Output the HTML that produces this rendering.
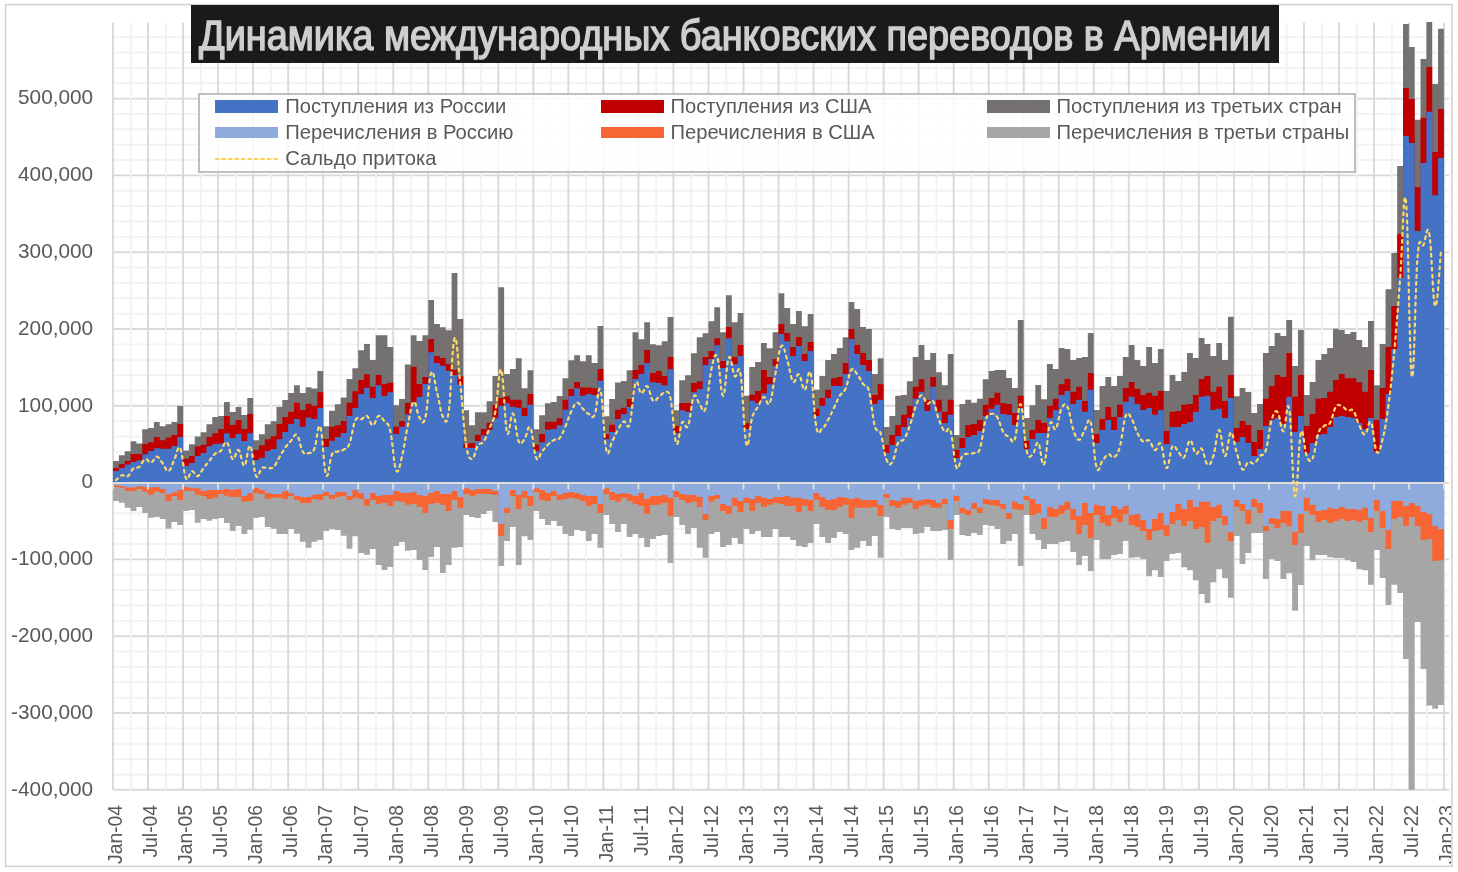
<!DOCTYPE html>
<html><head><meta charset="utf-8"><title>chart</title>
<style>
html,body{margin:0;padding:0;background:#fff;}
body{width:1458px;height:872px;position:relative;overflow:hidden;font-family:"Liberation Sans",sans-serif;color:#595959;}
.yl,#xwrap,#legend,#title{will-change:transform;}
.yl{position:absolute;left:0;width:93.2px;text-align:right;font-size:20.8px;line-height:24px;height:24px;white-space:nowrap;}
.xl{position:absolute;top:875.3px;width:70px;height:22px;line-height:22px;font-size:19.3px;transform-origin:0 0;transform:rotate(-90deg);text-align:right;white-space:nowrap;margin-left:-7.7px;}
#title{position:absolute;left:191px;top:5px;width:1087.8px;height:57.5px;background:#1a1a1a;overflow:hidden;}
#title span{position:absolute;left:7.5px;top:4.1px;white-space:nowrap;font-size:43px;line-height:52px;font-weight:normal;color:#d0cece;-webkit-text-stroke:1.5px #d0cece;transform-origin:0 50%;transform:scaleX(0.8805);}
#legend{position:absolute;left:197.7px;top:93px;width:1158.2px;height:79.7px;border:2px solid #bfbfbf;background:rgba(255,255,255,0.82);box-sizing:border-box;}
.li{position:absolute;height:24px;line-height:24px;font-size:20.2px;white-space:nowrap;}
#xwrap{position:absolute;left:0;top:0;width:1451.3px;height:872px;overflow:hidden;}
.sw{position:absolute;width:63px;height:12px;}
</style></head><body>
<svg width="1458" height="872" viewBox="0 0 1458 872" style="position:absolute;left:0;top:0">
<rect x="0" y="0" width="1458" height="872" fill="#fff"/>
<rect x="5.6" y="4.6" width="1446.3" height="861.7" fill="none" stroke="#d0d0d0" stroke-width="1.5"/>
<path d="M113 789.8H1449M113 713H1449M113 636.2H1449M113 559.4H1449M113 405.8H1449M113 329H1449M113 252.2H1449M113 175.4H1449M113 98.6H1449M113 789.7H1449" stroke="#d9d9d9" stroke-width="1.9" fill="none"/>
<path d="M113 774.44H1449M113 759.08H1449M113 743.72H1449M113 728.36H1449M113 697.64H1449M113 682.28H1449M113 666.92H1449M113 651.56H1449M113 620.84H1449M113 605.48H1449M113 590.12H1449M113 574.76H1449M113 544.04H1449M113 528.68H1449M113 513.32H1449M113 497.96H1449M113 467.24H1449M113 451.88H1449M113 436.52H1449M113 421.16H1449M113 390.44H1449M113 375.08H1449M113 359.72H1449M113 344.36H1449M113 313.64H1449M113 298.28H1449M113 282.92H1449M113 267.56H1449M113 236.84H1449M113 221.48H1449M113 206.12H1449M113 190.76H1449M113 160.04H1449M113 144.68H1449M113 129.32H1449M113 113.96H1449M113 83.24H1449M113 67.88H1449M113 52.52H1449M113 37.16H1449" stroke="#f2f2f2" stroke-width="1.9" fill="none"/>
<path d="M130.81 22.6V789.7M165.84 22.6V789.7M200.87 22.6V789.7M235.9 22.6V789.7M270.93 22.6V789.7M305.95 22.6V789.7M340.98 22.6V789.7M376.01 22.6V789.7M411.04 22.6V789.7M446.07 22.6V789.7M481.09 22.6V789.7M516.12 22.6V789.7M551.15 22.6V789.7M586.18 22.6V789.7M621.21 22.6V789.7M656.23 22.6V789.7M691.26 22.6V789.7M726.29 22.6V789.7M761.32 22.6V789.7M796.35 22.6V789.7M831.37 22.6V789.7M866.4 22.6V789.7M901.43 22.6V789.7M936.46 22.6V789.7M971.49 22.6V789.7M1006.51 22.6V789.7M1041.54 22.6V789.7M1076.57 22.6V789.7M1111.6 22.6V789.7M1146.63 22.6V789.7M1181.65 22.6V789.7M1216.68 22.6V789.7M1251.71 22.6V789.7M1286.74 22.6V789.7M1321.77 22.6V789.7M1356.79 22.6V789.7M1391.82 22.6V789.7M1426.85 22.6V789.7" stroke="#f2f2f2" stroke-width="1.9" fill="none"/>
<path d="M113 22.6V789.7M148.03 22.6V789.7M183.06 22.6V789.7M218.08 22.6V789.7M253.11 22.6V789.7M288.14 22.6V789.7M323.17 22.6V789.7M358.2 22.6V789.7M393.22 22.6V789.7M428.25 22.6V789.7M463.28 22.6V789.7M498.31 22.6V789.7M533.34 22.6V789.7M568.36 22.6V789.7M603.39 22.6V789.7M638.42 22.6V789.7M673.45 22.6V789.7M708.48 22.6V789.7M743.5 22.6V789.7M778.53 22.6V789.7M813.56 22.6V789.7M848.59 22.6V789.7M883.62 22.6V789.7M918.64 22.6V789.7M953.67 22.6V789.7M988.7 22.6V789.7M1023.73 22.6V789.7M1058.76 22.6V789.7M1093.78 22.6V789.7M1128.81 22.6V789.7M1163.84 22.6V789.7M1198.87 22.6V789.7M1233.9 22.6V789.7M1268.92 22.6V789.7M1303.95 22.6V789.7M1338.98 22.6V789.7M1374.01 22.6V789.7M1409.04 22.6V789.7M1444.06 22.6V789.7" stroke="#d9d9d9" stroke-width="1.9" fill="none"/>
<path fill="#767171" d="M113.05 482.6V461.12H118.89V455.22H124.72V451.24H130.56V441.25H136.4V443.41H142.23V429.32H148.07V428.12H153.91V422.1H159.75V426.31H165.58V424.14H171.42V422.1H177.26V406.08H183.09V450.4H188.93V444.26H194.77V436.55H200.6V432.21H206.44V424.14H212.28V416.92H218.12V416.07H223.95V402.1H229.79V412.1H235.63V407.04H241.46V415.11H247.3V398.01H253.14V440.16H258.97V434.14H264.81V424.14H270.65V421.13H276.49V407.04H282.32V400.06H288.16V393.11H294V385.31H299.83V393.11H305.67V387.26H311.51V388.62H317.34V371.08H323.18V426.25H329.02V410.65H334.86V404.22H340.69V397.4H346.53V379.07H352.37V368.15H358.2V350.22H364.04V343.98H369.88V359.97H375.71V335.21H381.55V335.21H387.39V346.9H393.23V405.19H399.06V398.96H404.9V364.45H410.74V335.21H416.57V341.06H422.41V335.21H428.25V300.06H434.08V323.9H439.92V327.21H445.76V330.14H451.6V273.11H457.43V319.01H463.27V410.18H469.11V425.15H474.94V412.35H480.78V412.35H486.62V401.2H492.45V376.1H498.29V287.2H504.13V374.1H509.97V369.11H515.8V358.3H521.64V388.23H527.48V370.28H533.31V429.31H539.15V415.34H544.99V403.2H550.82V402.04H556.66V396.05H562.5V378.26H568.34V360.3H574.17V355.31H580.01V361.13H585.85V355.31H591.68V362.96H597.52V326.09H603.36V416.17H609.19V399.04H615.03V382.41H620.87V381.08H626.71V370.28H632.54V332.2H638.38V339.14H644.22V322.16H650.05V344.2H655.89V345.16H661.73V341.19H667.56V317.1H673.4V410.29H679.24V380.33H685.08V375.27H690.91V353.23H696.75V337.21H702.59V333.36H708.42V321.31H714.26V307.22H720.1V332.15H725.93V295.18H731.77V322.16H737.61V313.12H743.45V395.84H749.28V367.08H755.12V362.02H760.96V342.99H766.79V348.17H772.63V332.15H778.47V293.25H784.3V308.07H790.14V324.08H795.98V311.08H801.82V326.13H807.65V314.09H813.49V389.82H819.33V376.11H825.16V360.1H831V354.07H836.84V348.05H842.67V337.21H848.51V302.04H854.35V309.03H860.19V327.1H866.02V328.9H871.86V374.07H877.7V358.29H883.53V426.91H889.37V415.95H895.21V395.84H901.04V395H906.88V381.17H912.72V357.09H918.56V345.04H924.39V360.1H930.23V352.99H936.07V372.14H941.9V385.15H947.74V354.07H953.58V434.98H959.41V403.91H965.25V399.81H971.09V402.83H976.93V398.85H982.76V379.13H988.6V371H994.44V370.04H1000.27V370.04H1006.11V378.11H1011.95V388.1H1017.78V320.06H1023.62V417.88H1029.46V405.21H1035.3V385.09H1041.13V399.18H1046.97V364.02H1052.81V369.07H1058.64V348.12H1064.48V348.96H1070.32V360.04H1076.15V357.99H1081.99V357.03H1087.83V332.94H1093.67V409.93H1099.5V386.06H1105.34V377.02H1111.18V386.06H1117.01V376.06H1122.85V357.03H1128.69V344.99H1134.52V360.04H1140.36V366.06H1146.2V346.91H1152.04V363.05H1157.87V348.96H1163.71V391.11H1169.55V375.1H1175.38V381.12H1181.22V372.09H1187.06V352.94H1192.89V357.99H1198.73V337.88H1204.57V343.9H1210.41V355.95H1216.24V342.94H1222.08V360.04H1227.92V316.8H1233.75V396.17H1239.59V388.1H1245.43V392.08H1251.26V412.94H1257.1V404.12H1262.94V352.94H1268.78V345.95H1274.61V332.94H1280.45V335.95H1286.29V320.06H1292.12V366.06H1297.96V329.93H1303.8V395.09H1309.63V382.08H1315.47V360.04H1321.31V354.02H1327.15V348H1332.98V328.85H1338.82V329.99H1344.66V333.96H1350.49V331.91H1356.33V339.98H1362.17V346.97H1368V320.95H1373.84V385.15H1379.68V343.96H1385.52V289.18H1391.35V253.05H1397.19V166H1403.03V24.03H1408.86V46.92H1414.7V119.87H1420.54V58.96H1426.38V22H1432.21V84.01H1438.05V28.85H1443.89V482.6Z"/>
<path fill="#C00000" d="M113.05 482.6V468.1H118.89V463.89H124.72V460.88H130.56V454.01H136.4V454.01H142.23V444.02H148.07V442.21H153.91V437.03H159.75V440.16H165.58V437.39H171.42V434.98H177.26V423.9H183.09V458.83H188.93V456.06H194.77V446.18H200.6V444.86H206.44V437.03H212.28V433.18H218.12V428.96H223.95V415.95H229.79V425.11H235.63V419.93H241.46V428.96H247.3V413.91H253.14V450.04H258.97V445.22H264.81V439.2H270.65V436.19H276.49V423.9H282.32V416.92H288.16V411.63H294V402.86H299.83V410.07H305.67V403.83H311.51V405.78H317.34V392.13H323.18V438.92H329.02V426.83H334.86V425.28H340.69V420.99H346.53V402.86H352.37V391.16H358.2V380.05H364.04V374.2H369.88V386.87H375.71V374.98H381.55V383.94H387.39V382.78H393.23V426.83H399.06V420.99H404.9V402.86H410.74V366.79H416.57V383.94H422.41V376.93H428.25V338.91H434.08V356.07H439.92V358.02H445.76V364.25H451.6V370.1H457.43V376.15H463.27V443.94H469.11V443.11H474.94V434.79H480.78V428.97H486.62V422.82H492.45V404.86H498.29V397.88H504.13V396.22H509.97V399.87H515.8V399.87H521.64V407.86H527.48V394.05H533.31V444.77H539.15V433.96H544.99V421.82H550.82V421.82H556.66V418.17H562.5V399.87H568.34V389.07H574.17V382.08H580.01V387.4H585.85V387.4H591.68V388.23H597.52V369.11H603.36V433.96H609.19V424.82H615.03V409.85H620.87V407.86H626.71V399.04H632.54V369.94H638.38V365.03H644.22V349.98H650.05V373.1H655.89V371.06H661.73V376.11H667.56V357.09H673.4V425.95H679.24V403.07H685.08V403.07H690.91V383.1H696.75V381.17H702.59V357.09H708.42V351.06H714.26V338.18H720.1V361.06H725.93V327.1H731.77V357.09H737.61V345.04H743.45V422.94H749.28V394.64H755.12V391.02H760.96V370.09H766.79V377.08H772.63V359.01H778.47V324.08H784.3V333.12H790.14V346.97H795.98V336.97H801.82V354.07H807.65V342.03H813.49V408.85H819.33V397.89H825.16V389.82H831V378.16H836.84V377.08H842.67V363.11H848.51V328.9H854.35V345.04H860.19V352.99H866.02V360.1H871.86V395H877.7V384.18H883.53V444.98H889.37V434.98H895.21V424.99H901.04V414.87H906.88V405.84H912.72V386.81H918.56V379.13H924.39V399.81H930.23V377.08H936.07V399.81H941.9V411.86H947.74V399.81H953.58V450.04H959.41V437.99H965.25V424.99H971.09V423.9H976.93V419.93H982.76V404.87H988.6V397.89H994.44V392.83H1000.27V403.07H1006.11V403.91H1011.95V412.94H1017.78V395.84H1023.62V441H1029.46V429.92H1035.3V419.93H1041.13V422.94H1046.97V405.84H1052.81V398.85H1058.64V384.13H1064.48V379.07H1070.32V391.87H1076.15V386.81H1081.99V400.9H1087.83V373.05H1093.67V434.02H1099.5V418.96H1105.34V406.92H1111.18V416.92H1117.01V404.87H1122.85V388.01H1128.69V382.08H1134.52V388.85H1140.36V394.88H1146.2V392.83H1152.04V395.84H1157.87V391.02H1163.71V431.01H1169.55V411.86H1175.38V410.89H1181.22V404.87H1187.06V403.91H1192.89V395H1198.73V379.07H1204.57V376.06H1210.41V391.87H1216.24V386.81H1222.08V400.9H1227.92V375.1H1233.75V428H1239.59V420.89H1245.43V424.99H1251.26V441.97H1257.1V429.92H1262.94V398.85H1268.78V386.2H1274.61V375.1H1280.45V377.02H1286.29V352.94H1292.12V396.8H1297.96V375.1H1303.8V425.95H1309.63V413.91H1315.47V398.85H1321.31V397.89H1327.15V391.87H1332.98V380.03H1338.82V374.07H1344.66V378.16H1350.49V378.16H1356.33V382.14H1362.17V391.87H1368V370.09H1373.84V419.93H1379.68V388.01H1385.52V346.97H1391.35V305.9H1397.19V233.9H1403.03V88.11H1408.86V99.07H1414.7V187.08H1420.54V117.83H1426.38V67.03H1432.21V152.03H1438.05V109.03H1443.89V482.6Z"/>
<path fill="#4472C4" d="M113.05 482.6V471.11H118.89V468.1H124.72V464.49H130.56V462.08H136.4V460.28H142.23V454.25H148.07V451H153.91V448.23H159.75V448.83H165.58V448.83H171.42V446.06H177.26V437.03H183.09V465.94H188.93V463.05H194.77V456.06H200.6V453.05H206.44V446.18H212.28V444.02H218.12V443.41H223.95V433.18H229.79V437.99H235.63V434.02H241.46V441H247.3V433.18H253.14V459.91H258.97V457.87H264.81V451H270.65V449.07H276.49V439.2H282.32V431.97H288.16V423.91H294V419.04H299.83V426.83H305.67V417.48H311.51V419.04H317.34V408.12H323.18V446.72H329.02V440.87H334.86V436.97H340.69V433.07H346.53V415.92H352.37V408.12H358.2V394.08H364.04V387.84H369.88V397.98H375.71V385.31H381.55V396.03H387.39V392.13H393.23V434.05H399.06V426.83H404.9V414.16H410.74V401.88H416.57V397.01H422.41V383.94H428.25V352.17H434.08V362.89H439.92V365.81H445.76V371.08H451.6V374.98H457.43V384.72H463.27V448.1H469.11V448.1H474.94V441.11H480.78V435.29H486.62V429.81H492.45V418.17H498.29V405.69H504.13V403.2H509.97V406.86H515.8V407.86H521.64V416H527.48V404.86H533.31V450.92H539.15V442.28H544.99V429.81H550.82V428.97H556.66V425.32H562.5V409.85H568.34V396.05H574.17V388.23H580.01V395.72H585.85V394.05H591.68V394.89H597.52V380.75H603.36V438.95H609.19V431.97H615.03V419H620.87V414.01H626.71V407.02H632.54V379.09H638.38V374.07H644.22V363.11H650.05V382.14H655.89V383.1H661.73V385.15H667.56V369.13H673.4V432.94H679.24V410.29H685.08V411.74H690.91V392.13H696.75V389.12H702.59V365.03H708.42V359.01H714.26V345.16H720.1V368.05H725.93V338.18H731.77V364.07H737.61V356H743.45V428.96H749.28V400.66H755.12V403.07H760.96V393.43H766.79V384.18H772.63V366.12H778.47V333.96H784.3V341.19H790.14V356H795.98V346H801.82V361.06H807.65V351.06H813.49V415.95H819.33V405.84H825.16V397.89H831V386.11H836.84V386.11H842.67V374.07H848.51V339.02H854.35V354.07H860.19V365.03H866.02V371.06H871.86V404.03H877.7V399.81H883.53V453.05H889.37V444.98H895.21V435.95H901.04V426.91H906.88V417.88H912.72V398.85H918.56V391.87H924.39V410.89H930.23V386.81H936.07V411.86H941.9V422.94H947.74V414.87H953.58V458.11H959.41V447.99H965.25V437.03H971.09V434.98H976.93V431.01H982.76V415.95H988.6V408.85H994.44V404.87H1000.27V413.91H1006.11V414.87H1011.95V424.99H1017.78V407.88H1023.62V449.07H1029.46V438.96H1035.3V432.94H1041.13V432.94H1046.97V417.88H1052.81V409.93H1058.64V395H1064.48V391.02H1070.32V403.91H1076.15V399.81H1081.99V411.86H1087.83V389.82H1093.67V443.05H1099.5V429.92H1105.34V419.93H1111.18V429.92H1117.01V416.92H1122.85V401.86H1128.69V396.8H1134.52V403.91H1140.36V409.93H1146.2V407.88H1152.04V414.87H1157.87V409.93H1163.71V444.02H1169.55V426.91H1175.38V426.91H1181.22V423.9H1187.06V421.98H1192.89V411.86H1198.73V396.8H1204.57V395.84H1210.41V409.93H1216.24V408.85H1222.08V417.88H1227.92V397.89H1233.75V441.97H1239.59V437.03H1245.43V443.05H1251.26V456.06H1257.1V449.07H1262.94V425.95H1268.78V419.93H1274.61V417.88H1280.45V423.9H1286.29V396.8H1292.12V431.97H1297.96V415.95H1303.8V453.05H1309.63V443.05H1315.47V434.98H1321.31V434.02H1327.15V426.91H1332.98V416.92H1338.82V415.95H1344.66V416.92H1350.49V417.88H1356.33V422.94H1362.17V428.96H1368V417.88H1373.84V451.84H1379.68V418.96H1385.52V394.03H1391.35V349.02H1397.19V278.1H1403.03V135.89H1408.86V143H1414.7V230.89H1420.54V162.99H1426.38V111.8H1432.21V195.15H1438.05V158.05H1443.89V482.6Z"/>
<path fill="#A6A6A6" d="M113.05 482.6V500.88H118.89V502.69H124.72V507.87H130.56V510.88H136.4V506.91H142.23V512.93H148.07V517.75H153.91V516.9H159.75V518.95H165.58V528.83H171.42V521.96H177.26V524.97H183.09V511.12H188.93V509.92H194.77V522.8H200.6V518.95H206.44V520.76H212.28V518.95H218.12V517.99H223.95V522.92H229.79V530.99H235.63V525.94H241.46V534H247.3V529.79H253.14V517.99H258.97V516.9H264.81V527.02H270.65V528.83H276.49V534H282.32V534H288.16V528.95H294V533.64H299.83V541.83H305.67V547.86H311.51V541.83H317.34V540.03H323.18V530.99H329.02V529.19H334.86V530.03H340.69V535.81H346.53V548.82H352.37V536.17H358.2V552.91H364.04V554.84H369.88V549.06H375.71V564.96H381.55V569.9H387.39V566.89H393.23V546.05H399.06V542.07H404.9V550.87H410.74V550.02H416.57V559.9H422.41V569.9H428.25V556.89H434.08V546.89H439.92V572.91H445.76V564.96H451.6V547.86H457.43V546.89H463.27V515.1H469.11V516.9H474.94V517.99H480.78V513.89H486.62V511.12H492.45V521.96H498.29V565.92H504.13V540.99H509.97V527.02H515.8V564.96H521.64V536.17H527.48V540.03H533.31V511.12H539.15V518.95H544.99V524.97H550.82V521H556.66V525.94H562.5V534H568.34V536.05H574.17V530.03H580.01V530.99H585.85V540.99H591.68V534H597.52V547.86H603.36V515.1H609.19V524.01H615.03V531.96H620.87V524.01H626.71V537.02H632.54V534H638.38V537.98H644.22V547.01H650.05V539.06H655.89V536.05H661.73V534.97H667.56V562.91H673.4V516.9H679.24V524.97H685.08V534H690.91V527.98H696.75V547.86H702.59V557.85H708.42V534H714.26V531.96H720.1V547.01H725.93V545.09H731.77V537.98H737.61V544H743.45V528.95H749.28V534H755.12V530.99H760.96V537.02H766.79V537.02H772.63V528.95H778.47V537.02H784.3V537.02H790.14V540.03H795.98V546.05H801.82V547.01H807.65V543.04H813.49V524.01H819.33V537.02H825.16V543.04H831V537.98H836.84V531.96H842.67V534H848.51V550.02H854.35V547.86H860.19V540.99H866.02V546.05H871.86V536.05H877.7V557.85H883.53V516.9H889.37V528.95H895.21V530.03H901.04V527.98H906.88V527.98H912.72V534H918.56V533.04H924.39V527.02H930.23V530.99H936.07V530.99H941.9V530.03H947.74V559.9H953.58V515.1H959.41V534.97H965.25V536.05H971.09V533.04H976.93V534.97H982.76V524.97H988.6V525.94H994.44V528.95H1000.27V544H1006.11V540.99H1011.95V534H1017.78V565.92H1023.62V514.98H1029.46V534H1035.3V540.03H1041.13V549.06H1046.97V544H1052.81V544H1058.64V542.07H1064.48V540.99H1070.32V552.07H1076.15V564.96H1081.99V556.05H1087.83V571.1H1093.67V540.03H1099.5V559.06H1105.34V559.06H1111.18V555.08H1117.01V554.12H1122.85V540.99H1128.69V557.85H1134.52V557.13H1140.36V559.06H1146.2V576.16H1152.04V570.14H1157.87V577.12H1163.71V561.1H1169.55V554.12H1175.38V553.03H1181.22V567.13H1187.06V570.14H1192.89V580.13H1198.73V593.98H1204.57V603.02H1210.41V582.18H1216.24V569.17H1222.08V578.21H1227.92V597.84H1233.75V536.05H1239.59V564.11H1245.43V553.03H1251.26V533.04H1257.1V533.04H1262.94V578.93H1268.78V559.06H1274.61V561.1H1280.45V578.93H1286.29V573.15H1292.12V610.85H1297.96V584.95H1303.8V546.05H1309.63V560.14H1315.47V555.08H1321.31V555.08H1327.15V557.13H1332.98V558.09H1338.82V558.09H1344.66V560.14H1350.49V562.07H1356.33V569.17H1362.17V570.14H1368V584.8H1373.84V550.02H1379.68V577.97H1385.52V604.9H1391.35V584.8H1397.19V592.9H1403.03V659.1H1408.86V789.7H1414.7V622H1420.54V669.1H1426.38V705.5H1432.21V708.7H1438.05V705H1443.89V482.6Z"/>
<path fill="#F86534" d="M113.05 482.6V487.03H118.89V488H124.72V491.01H130.56V491.01H136.4V489.08H142.23V491.85H148.07V494.86H153.91V491.85H159.75V493.06H165.58V500.88H171.42V496.07H177.26V500.04H183.09V490.65H188.93V491.01H194.77V494.86H200.6V496.07H206.44V499.08H212.28V497.87H218.12V493.9H223.95V495.83H229.79V497.03H235.63V497.03H241.46V501.85H247.3V500.88H253.14V493.06H258.97V494.02H264.81V499.08H270.65V497.87H276.49V497.87H282.32V499.08H288.16V496.07H294V500.04H299.83V502.93H305.67V502.93H311.51V499.08H317.34V500.04H323.18V496.07H329.02V499.08H334.86V497.03H340.69V496.07H346.53V500.04H352.37V497.87H358.2V499.08H364.04V505.94H369.88V500.04H375.71V503.89H381.55V502.93H387.39V505.94H393.23V500.88H399.06V501.85H404.9V504.86H410.74V503.89H416.57V506.91H422.41V512.93H428.25V503.89H434.08V502.93H439.92V504.86H445.76V510.88H451.6V500.04H457.43V507.87H463.27V494.02H469.11V496.07H474.94V494.02H480.78V494.02H486.62V494.02H492.45V495.1H498.29V536.05H504.13V512.93H509.97V496.07H515.8V508.95H521.64V497.87H527.48V505.94H533.31V492.09H539.15V500.04H544.99V500.88H550.82V496.07H556.66V500.04H562.5V499.08H568.34V497.87H574.17V499.08H580.01V500.88H585.85V505.94H591.68V503.89H597.52V512.93H603.36V494.02H609.19V500.04H615.03V501.85H620.87V497.87H626.71V500.88H632.54V503.89H638.38V505.94H644.22V513.89H650.05V505.1H655.89V504.86H661.73V502.93H667.56V515.94H673.4V497.03H679.24V500.04H685.08V502.93H690.91V501.85H696.75V506.91H702.59V519.91H708.42V501.85H714.26V499.08H720.1V510.88H725.93V513.89H731.77V505.94H737.61V511.96H743.45V502.93H749.28V510.88H755.12V502.93H760.96V506.91H766.79V504.86H772.63V502.93H778.47V503.89H784.3V505.94H790.14V505.94H795.98V511.96H801.82V505.94H807.65V510.88H813.49V500.04H819.33V506.91H825.16V509.92H831V509.92H836.84V506.91H842.67V504.86H848.51V517.99H854.35V507.87H860.19V507.87H866.02V507.87H871.86V506.91H877.7V515.94H883.53V497.87H889.37V505.94H895.21V507.87H901.04V504.86H906.88V502.93H912.72V508.95H918.56V505.94H924.39V504.86H930.23V507.87H936.07V507.87H941.9V503.89H947.74V528.95H953.58V500.88H959.41V512.93H965.25V514.98H971.09V508.95H976.93V512.93H982.76V503.89H988.6V505.1H994.44V505.94H1000.27V508.95H1006.11V518.95H1011.95V508.95H1017.78V509.92H1023.62V500.04H1029.46V514.98H1035.3V512.93H1041.13V528.95H1046.97V516.9H1052.81V516.9H1058.64V513.89H1064.48V509.92H1070.32V519.91H1076.15V534H1081.99V524.97H1087.83V537.98H1093.67V514.98H1099.5V522.92H1105.34V525.94H1111.18V517.99H1117.01V521.96H1122.85V513.89H1128.69V524.97H1134.52V527.02H1140.36V530.99H1146.2V540.03H1152.04V530.99H1157.87V530.03H1163.71V536.05H1169.55V524.01H1175.38V519.91H1181.22V525.94H1187.06V521H1192.89V528.95H1198.73V527.02H1204.57V543.04H1210.41V521H1216.24V517.99H1222.08V524.97H1227.92V540.99H1233.75V506.91H1239.59V510.88H1245.43V524.01H1251.26V506.91H1257.1V512.93H1262.94V530.99H1268.78V524.01H1274.61V527.98H1280.45V522.92H1286.29V525.94H1292.12V545.09H1297.96V533.04H1303.8V510.88H1309.63V514.98H1315.47V521.96H1321.31V519.91H1327.15V522.92H1332.98V521H1338.82V518.95H1344.66V521H1350.49V519.91H1356.33V521.96H1362.17V519.91H1368V531.96H1373.84V510.88H1379.68V527.98H1385.52V549.06H1391.35V518.95H1397.19V516.9H1403.03V525.94H1408.86V516.9H1414.7V525.94H1420.54V540.03H1426.38V539.06H1432.21V561.1H1438.05V560.14H1443.89V482.6Z"/>
<path fill="#8FAADC" d="M113.05 482.6V485.23H118.89V486.19H124.72V487.39H130.56V487.39H136.4V486.19H142.23V487.03H148.07V487.39H153.91V487.03H159.75V489.08H165.58V494.02H171.42V492.21H177.26V490.04H183.09V487.03H188.93V488.24H194.77V488.24H200.6V491.01H206.44V490.04H212.28V490.04H218.12V490.04H223.95V489.08H229.79V490.04H235.63V489.08H241.46V496.07H247.3V493.06H253.14V488H258.97V490.04H264.81V493.06H270.65V494.02H276.49V494.02H282.32V491.01H288.16V493.06H294V496.07H299.83V497.03H305.67V497.03H311.51V494.86H317.34V494.02H323.18V492.09H329.02V495.1H334.86V492.09H340.69V492.09H346.53V496.07H352.37V490.04H358.2V493.06H364.04V499.08H369.88V493.06H375.71V496.07H381.55V495.1H387.39V495.1H393.23V491.01H399.06V493.06H404.9V493.06H410.74V492.09H416.57V495.1H422.41V496.07H428.25V493.06H434.08V491.01H439.92V494.02H445.76V494.02H451.6V491.01H457.43V497.03H463.27V488.24H469.11V490.04H474.94V489.08H480.78V489.08H486.62V489.08H492.45V491.01H498.29V524.01H504.13V507.87H509.97V490.04H515.8V495.1H521.64V491.01H527.48V496.07H533.31V488.24H539.15V490.04H544.99V493.06H550.82V491.01H556.66V494.86H562.5V493.06H568.34V492.09H574.17V493.06H580.01V495.1H585.85V496.07H591.68V496.07H597.52V503.89H603.36V488.24H609.19V492.09H615.03V494.02H620.87V493.06H626.71V494.02H632.54V496.07H638.38V493.06H644.22V499.08H650.05V496.07H655.89V496.07H661.73V495.1H667.56V497.87H673.4V491.01H679.24V494.02H685.08V495.1H690.91V495.1H696.75V497.03H702.59V513.89H708.42V496.07H714.26V495.1H720.1V503.89H725.93V505.94H731.77V497.87H737.61V500.88H743.45V497.87H749.28V499.08H755.12V496.07H760.96V497.87H766.79V499.08H772.63V497.03H778.47V497.03H784.3V496.07H790.14V497.87H795.98V497.87H801.82V499.08H807.65V500.04H813.49V493.06H819.33V497.03H825.16V500.04H831V499.08H836.84V497.03H842.67V497.87H848.51V499.08H854.35V497.87H860.19V500.04H866.02V500.04H871.86V500.04H877.7V505.1H883.53V494.02H889.37V500.04H895.21V500.88H901.04V497.87H906.88V497.87H912.72V500.88H918.56V500.04H924.39V499.08H930.23V500.04H936.07V502.93H941.9V499.08H947.74V519.91H953.58V496.07H959.41V507.87H965.25V509.92H971.09V502.93H976.93V507.87H982.76V499.08H988.6V500.04H994.44V500.04H1000.27V503.89H1006.11V512.93H1011.95V501.85H1017.78V503.89H1023.62V496.07H1029.46V499.08H1035.3V503.89H1041.13V517.99H1046.97V506.91H1052.81V508.95H1058.64V505.1H1064.48V501.85H1070.32V508.95H1076.15V515.94H1081.99V502.93H1087.83V512.93H1093.67V504.86H1099.5V505.94H1105.34V514.98H1111.18V505.94H1117.01V508.95H1122.85V505.94H1128.69V514.98H1134.52V513.89H1140.36V519.91H1146.2V528.95H1152.04V518.95H1157.87V512.93H1163.71V524.97H1169.55V511.96H1175.38V503.89H1181.22V508.95H1187.06V500.04H1192.89V506.91H1198.73V501.85H1204.57V501.85H1210.41V506.91H1216.24V504.86H1222.08V515.94H1227.92V531.96H1233.75V500.04H1239.59V503.89H1245.43V509.92H1251.26V499.08H1257.1V502.93H1262.94V525.94H1268.78V517.99H1274.61V518.95H1280.45V510.88H1286.29V510.88H1292.12V531.96H1297.96V513.89H1303.8V497.87H1309.63V504.86H1315.47V510.88H1321.31V509.92H1327.15V507.87H1332.98V508.95H1338.82V506.91H1344.66V508.95H1350.49V508.95H1356.33V509.92H1362.17V507.87H1368V517.99H1373.84V500.04H1379.68V510.88H1385.52V530.03H1391.35V500.88H1397.19V500.88H1403.03V505.94H1408.86V502.93H1414.7V505.94H1420.54V511.96H1426.38V513.89H1432.21V525.94H1438.05V528.95H1443.89V482.6Z"/>
<path d="M113 483H1449" stroke="#dfddda" stroke-width="1.9" fill="none"/>
<path d="M113 482.6V489.6M148.03 482.6V489.6M183.06 482.6V489.6M218.08 482.6V489.6M253.11 482.6V489.6M288.14 482.6V489.6M323.17 482.6V489.6M358.2 482.6V489.6M393.22 482.6V489.6M428.25 482.6V489.6M463.28 482.6V489.6M498.31 482.6V489.6M533.34 482.6V489.6M568.36 482.6V489.6M603.39 482.6V489.6M638.42 482.6V489.6M673.45 482.6V489.6M708.48 482.6V489.6M743.5 482.6V489.6M778.53 482.6V489.6M813.56 482.6V489.6M848.59 482.6V489.6M883.62 482.6V489.6M918.64 482.6V489.6M953.67 482.6V489.6M988.7 482.6V489.6M1023.73 482.6V489.6M1058.76 482.6V489.6M1093.78 482.6V489.6M1128.81 482.6V489.6M1163.84 482.6V489.6M1198.87 482.6V489.6M1233.9 482.6V489.6M1268.92 482.6V489.6M1303.95 482.6V489.6M1338.98 482.6V489.6M1374.01 482.6V489.6M1409.04 482.6V489.6M1444.06 482.6V489.6" stroke="#e2e0de" stroke-width="1.8" fill="none"/>
<path d="M115.97 480.15C117.17 479.16 119.41 476.12 121.81 475.33C124.2 474.54 125.25 477.73 127.64 476.29C130.04 474.86 131.09 470.27 133.48 468.34C135.87 466.42 136.92 468.8 139.32 466.9C141.71 465 142.76 459.94 145.15 459.07C147.55 458.21 148.6 463.18 150.99 462.68C153.38 462.19 154.43 456.54 156.83 456.66C159.22 456.79 160.27 460.32 162.66 463.29C165.06 466.25 166.11 471.86 168.5 471.11C170.89 470.37 171.95 464.36 174.34 459.67C176.73 454.98 177.78 444.4 180.18 448.23C182.57 452.06 183.62 473.65 186.01 478.34C188.41 483.03 189.46 471.56 191.85 471.11C194.24 470.67 195.29 476.79 197.69 476.17C200.08 475.56 201.13 471.24 203.52 468.1C205.92 464.97 206.97 463.84 209.36 460.88C211.75 457.91 212.8 455.75 215.2 453.65C217.59 451.55 218.64 452.99 221.03 450.64C223.43 448.29 224.48 440.48 226.87 442.21C229.26 443.94 230.32 457.47 232.71 459.07C235.1 460.68 236.15 448.68 238.55 450.04C240.94 451.4 241.99 466.56 244.38 465.7C246.78 464.83 247.83 443.72 250.22 445.82C252.61 447.92 253.66 471.36 256.06 475.93C258.45 480.5 259.5 469.71 261.89 468.1C264.29 466.5 265.34 468.35 267.73 468.1C270.12 467.86 271.17 469.12 273.57 466.9C275.96 464.68 277.01 461.21 279.4 457.26C281.8 453.31 282.85 450.99 285.24 447.63C287.63 444.27 288.69 443.46 291.08 440.87C293.47 438.29 294.52 432.82 296.92 435.02C299.31 437.22 300.36 447.88 302.75 451.59C305.15 455.31 306.2 453.75 308.59 453.15C310.98 452.55 312.03 454.07 314.43 448.67C316.82 443.27 317.87 421.44 320.26 426.83C322.66 432.23 323.71 469.31 326.1 474.99C328.49 480.66 329.54 459.31 331.94 454.52C334.33 449.72 335.38 452.59 337.77 451.59C340.17 450.59 341.22 451.24 343.61 449.64C346 448.05 347.06 449.79 349.45 443.8C351.84 437.8 352.89 425.4 355.29 420.4C357.68 415.41 358.73 420.35 361.12 419.43C363.52 418.51 364.57 414.72 366.96 415.92C369.35 417.12 370.4 425.28 372.8 425.28C375.19 425.28 376.24 416.72 378.63 415.92C381.03 415.12 382.08 418.26 384.47 421.38C386.86 424.49 387.91 421.13 390.31 431.12C392.7 441.12 393.75 464.92 396.14 470.11C398.54 475.31 399.59 465.66 401.98 456.47C404.37 447.28 405.43 436.47 407.82 425.28C410.21 414.08 411.26 403.48 413.66 401.88C416.05 400.28 417.1 414.28 419.49 417.48C421.89 420.67 422.94 426.67 425.33 417.48C427.72 408.28 428.77 377.83 431.17 372.64C433.56 367.44 434.61 383.14 437 392.13C439.4 401.13 440.45 412.51 442.84 416.5C445.23 420.5 446.28 427.61 448.68 411.63C451.07 395.64 452.12 344.12 454.51 338.52C456.91 332.93 457.96 362.55 460.35 384.33C462.74 406.12 463.8 429.48 466.19 444.77C468.58 460.06 469.63 458.73 472.03 458.9C474.42 459.08 475.47 449.18 477.86 445.6C480.26 442.02 481.31 445.02 483.7 441.44C486.09 437.87 487.14 434.28 489.54 428.14C491.93 422.01 492.98 423.44 495.37 411.51C497.77 399.58 498.82 365.68 501.21 369.94C503.6 374.2 504.65 423.37 507.05 432.3C509.44 441.23 510.49 411.63 512.88 413.51C515.28 415.38 516.33 436.23 518.72 441.44C521.11 446.66 522.17 441.78 524.56 438.95C526.95 436.12 528 423.72 530.4 427.64C532.79 431.56 533.84 453.2 536.23 458.07C538.63 462.95 539.68 454.15 542.07 451.42C544.46 448.69 545.51 447.09 547.91 444.77C550.3 442.45 551.35 441.48 553.74 440.11C556.14 438.75 557.19 440.91 559.58 438.12C561.97 435.32 563.02 431.93 565.42 426.48C567.81 421.03 568.86 416.39 571.25 411.51C573.65 406.64 574.7 403.21 577.09 402.7C579.48 402.19 580.54 406.7 582.93 409.02C585.32 411.34 586.37 412.81 588.77 414.01C591.16 415.2 592.21 419.78 594.6 414.84C597 409.9 598.05 382.74 600.44 389.9C602.83 397.06 603.88 439.19 606.28 449.76C608.67 460.33 609.72 445.54 612.11 441.44C614.51 437.35 615.56 433.9 617.95 429.81C620.34 425.71 621.39 422.68 623.79 421.49C626.18 420.3 627.23 431.83 629.62 423.99C632.02 416.14 633.07 389.51 635.46 383.25C637.85 376.98 638.91 392.82 641.3 393.43C643.69 394.04 644.74 384.72 647.14 386.2C649.53 387.69 650.58 398.44 652.97 400.66C655.37 402.88 656.42 398.65 658.81 397.04C661.2 395.44 662.25 392.58 664.65 392.83C667.04 393.08 668.09 387.88 670.48 398.25C672.88 408.62 673.93 438.48 676.32 443.41C678.71 448.35 679.76 425.92 682.16 422.34C684.55 418.76 685.6 431.26 687.99 425.95C690.39 420.64 691.44 400.89 693.83 396.44C696.22 392 697.28 401.8 699.67 404.27C702.06 406.74 703.11 415.62 705.51 408.49C707.9 401.36 708.95 380.08 711.34 369.49C713.74 358.9 714.79 351.44 717.18 356.84C719.57 362.25 720.62 395.72 723.02 395.84C725.41 395.96 726.46 361.49 728.85 357.45C731.25 353.4 732.3 372.66 734.69 376.11C737.08 379.57 738.13 360.39 740.53 374.31C742.92 388.23 743.97 435.16 746.36 444.02C748.76 452.87 749.81 425.17 752.2 417.52C754.59 409.86 755.65 410.88 758.04 406.68C760.43 402.48 761.48 397.78 763.88 397.04C766.27 396.3 767.32 407.97 769.71 403.07C772.11 398.16 773.16 384.8 775.55 373.1C777.94 361.41 778.99 348.72 781.39 346C783.78 343.29 784.83 352.57 787.22 359.86C789.62 367.14 790.67 378.57 793.06 381.53C795.45 384.5 796.5 372.61 798.9 374.31C801.29 376.01 802.34 390.06 804.73 389.82C807.13 389.57 808.18 365.4 810.57 373.1C812.96 380.81 814.02 416.02 816.41 427.4C818.8 438.77 819.85 430.13 822.25 428.6C824.64 427.07 825.69 424.17 828.08 419.93C830.48 415.68 831.53 412.82 833.92 407.88C836.31 402.95 837.36 399.79 839.76 395.84C842.15 391.89 843.2 393.97 845.59 388.61C847.99 383.26 849.04 372.66 851.43 369.73C853.82 366.8 854.87 371.39 857.27 374.31C859.66 377.22 860.71 380.52 863.1 383.94C865.5 387.37 866.55 382.41 868.94 391.02C871.33 399.63 872.39 417.31 874.78 425.95C877.17 434.59 878.22 426.26 880.62 433.18C883.01 440.09 884.06 453.75 886.45 459.67C888.85 465.6 889.9 465.54 892.29 462.08C894.68 458.63 895.73 447.5 898.13 442.81C900.52 438.12 901.57 442.65 903.96 439.2C906.36 435.74 907.41 432.62 909.8 425.95C912.19 419.28 913.24 412.98 915.64 406.68C918.03 400.38 919.08 395.85 921.47 395.24C923.87 394.62 924.92 402.43 927.31 403.67C929.7 404.9 930.76 397.93 933.15 401.26C935.54 404.59 936.59 413.76 938.99 419.93C941.38 426.1 942.43 429.02 944.82 431.37C947.22 433.72 948.27 423.96 950.66 431.37C953.05 438.78 954.1 462.44 956.5 467.5C958.89 472.56 959.94 458.9 962.33 456.06C964.73 453.22 965.78 454.27 968.17 453.65C970.56 453.03 971.61 454.04 974.01 453.05C976.4 452.06 977.45 455.62 979.84 448.83C982.24 442.04 983.29 427.09 985.68 419.93C988.07 412.77 989.13 414.4 991.52 413.91C993.91 413.41 994.96 413.82 997.36 417.52C999.75 421.22 1000.8 428.02 1003.19 431.97C1005.59 435.92 1006.64 435.31 1009.03 436.79C1011.42 438.27 1012.47 445.86 1014.87 439.2C1017.26 432.53 1018.31 402.05 1020.7 404.27C1023.1 406.49 1024.15 439.67 1026.54 450.04C1028.93 460.41 1029.98 456.34 1032.38 454.86C1034.77 453.37 1035.82 440.84 1038.21 442.81C1040.61 444.79 1041.66 468.32 1044.05 464.49C1046.44 460.66 1047.5 431.43 1049.89 424.14C1052.28 416.86 1053.33 432.17 1055.73 428.96C1058.12 425.75 1059.17 413.05 1061.56 408.49C1063.96 403.92 1065.01 402.36 1067.4 406.68C1069.79 411 1070.84 422.77 1073.24 429.56C1075.63 436.35 1076.68 439.8 1079.07 439.8C1081.47 439.8 1082.52 433.14 1084.91 429.56C1087.3 425.98 1088.35 414.56 1090.75 422.34C1093.14 430.11 1094.19 459.6 1096.58 467.5C1098.98 475.4 1100.03 463.59 1102.42 460.88C1104.81 458.16 1105.87 454.99 1108.26 454.25C1110.65 453.51 1111.7 458.87 1114.1 457.26C1116.49 455.66 1117.54 454.94 1119.93 446.42C1122.33 437.91 1123.38 421.39 1125.77 415.71C1128.16 410.03 1129.21 415.14 1131.61 418.72C1134 422.3 1135.05 428.49 1137.44 433.18C1139.84 437.87 1140.89 440.13 1143.28 441.61C1145.67 443.09 1146.72 438.67 1149.12 440.4C1151.51 442.13 1152.56 449.3 1154.95 450.04C1157.35 450.78 1158.4 440.31 1160.79 444.02C1163.18 447.72 1164.24 467.61 1166.63 468.1C1169.02 468.6 1170.07 449.76 1172.47 446.42C1174.86 443.09 1175.91 449.62 1178.3 451.84C1180.7 454.07 1181.75 459.61 1184.14 457.26C1186.53 454.92 1187.58 441.14 1189.98 440.4C1192.37 439.66 1193.42 451.92 1195.81 453.65C1198.21 455.38 1199.26 446.61 1201.65 448.83C1204.04 451.06 1205.09 463.01 1207.49 464.49C1209.88 465.97 1210.93 463.1 1213.32 456.06C1215.72 449.02 1216.77 430.17 1219.16 430.17C1221.55 430.17 1222.61 455.57 1225 456.06C1227.39 456.55 1228.44 433.31 1230.84 432.57C1233.23 431.83 1234.28 444.92 1236.67 452.45C1239.07 459.98 1240.12 467.33 1242.51 469.31C1244.9 471.28 1245.95 463.32 1248.35 462.08C1250.74 460.85 1251.79 464.52 1254.18 463.29C1256.58 462.05 1257.63 458.78 1260.02 456.06C1262.41 453.34 1263.46 457.44 1265.86 450.04C1268.25 442.63 1269.3 427.71 1271.69 419.93C1274.09 412.15 1275.14 409.75 1277.53 412.1C1279.92 414.44 1280.98 431.99 1283.37 431.37C1285.76 430.75 1286.81 395.83 1289.21 409.09C1291.6 422.35 1292.65 491.23 1295.04 496.05C1297.44 500.86 1298.49 440.77 1300.88 432.57C1303.27 424.38 1304.32 450.75 1306.72 456.06C1309.11 461.37 1310.16 463.16 1312.55 458.47C1314.95 453.78 1316 439.84 1318.39 433.18C1320.78 426.51 1321.83 428.05 1324.23 425.95C1326.62 423.85 1327.67 426.89 1330.06 422.94C1332.46 418.99 1333.51 410.14 1335.9 406.68C1338.29 403.22 1339.35 405.29 1341.74 406.08C1344.13 406.87 1345.18 409.55 1347.58 410.53C1349.97 411.52 1351.02 407.86 1353.41 410.89C1355.81 413.93 1356.86 420.53 1359.25 425.35C1361.64 430.16 1362.69 435 1365.09 434.38C1367.48 433.76 1368.53 418.76 1370.92 422.34C1373.32 425.92 1374.37 448.39 1376.76 451.84C1379.15 455.3 1380.2 448.7 1382.6 439.2C1384.99 429.69 1386.04 423.47 1388.43 405.47C1390.83 387.48 1391.88 377.35 1394.27 351.42C1396.66 325.5 1397.72 309.84 1400.11 279C1402.5 248.16 1403.55 181.12 1405.95 201C1408.34 220.88 1409.39 364.73 1411.78 376C1414.18 387.27 1415.23 282.86 1417.62 256C1420.01 229.15 1421.06 249.51 1423.46 245C1425.85 240.49 1426.9 221.5 1429.29 234C1431.69 246.5 1432.74 302.51 1435.13 306C1437.52 309.49 1439.77 262.27 1440.97 251" stroke="#FFD966" stroke-width="2.2" fill="none" stroke-dasharray="2.7 4.2" stroke-linejoin="round" stroke-linecap="round"/>
</svg>
<div class="yl" style="top:776.6px">-400,000</div>
<div class="yl" style="top:699.8px">-300,000</div>
<div class="yl" style="top:623px">-200,000</div>
<div class="yl" style="top:546.2px">-100,000</div>
<div class="yl" style="top:469.4px">0</div>
<div class="yl" style="top:392.6px">100,000</div>
<div class="yl" style="top:315.8px">200,000</div>
<div class="yl" style="top:239px">300,000</div>
<div class="yl" style="top:162.2px">400,000</div>
<div class="yl" style="top:85.4px">500,000</div>
<div id="xwrap"><div class="xl" style="left:113px">Jan-04</div>
<div class="xl" style="left:148.03px">Jul-04</div>
<div class="xl" style="left:183.06px">Jan-05</div>
<div class="xl" style="left:218.08px">Jul-05</div>
<div class="xl" style="left:253.11px">Jan-06</div>
<div class="xl" style="left:288.14px">Jul-06</div>
<div class="xl" style="left:323.17px">Jan-07</div>
<div class="xl" style="left:358.2px">Jul-07</div>
<div class="xl" style="left:393.22px">Jan-08</div>
<div class="xl" style="left:428.25px">Jul-08</div>
<div class="xl" style="left:463.28px">Jan-09</div>
<div class="xl" style="left:498.31px">Jul-09</div>
<div class="xl" style="left:533.34px">Jan-10</div>
<div class="xl" style="left:568.36px">Jul-10</div>
<div class="xl" style="left:603.39px">Jan-11</div>
<div class="xl" style="left:638.42px">Jul-11</div>
<div class="xl" style="left:673.45px">Jan-12</div>
<div class="xl" style="left:708.48px">Jul-12</div>
<div class="xl" style="left:743.5px">Jan-13</div>
<div class="xl" style="left:778.53px">Jul-13</div>
<div class="xl" style="left:813.56px">Jan-14</div>
<div class="xl" style="left:848.59px">Jul-14</div>
<div class="xl" style="left:883.62px">Jan-15</div>
<div class="xl" style="left:918.64px">Jul-15</div>
<div class="xl" style="left:953.67px">Jan-16</div>
<div class="xl" style="left:988.7px">Jul-16</div>
<div class="xl" style="left:1023.73px">Jan-17</div>
<div class="xl" style="left:1058.76px">Jul-17</div>
<div class="xl" style="left:1093.78px">Jan-18</div>
<div class="xl" style="left:1128.81px">Jul-18</div>
<div class="xl" style="left:1163.84px">Jan-19</div>
<div class="xl" style="left:1198.87px">Jul-19</div>
<div class="xl" style="left:1233.9px">Jan-20</div>
<div class="xl" style="left:1268.92px">Jul-20</div>
<div class="xl" style="left:1303.95px">Jan-21</div>
<div class="xl" style="left:1338.98px">Jul-21</div>
<div class="xl" style="left:1374.01px">Jan-22</div>
<div class="xl" style="left:1409.04px">Jul-22</div>
<div class="xl" style="left:1444.06px">Jan-23</div></div>
<div id="title"><span>Динамика международных банковских переводов в Армении</span></div>
<div id="legend">
<div class="sw" style="left:15.3px;top:5.3px;height:12.4px;background:#4472C4"></div><div class="li" style="left:85.3px;top:-1.5px">Поступления из России</div>
<div class="sw" style="left:15.3px;top:32.1px;height:11.3px;background:#8FAADC"></div><div class="li" style="left:85.3px;top:24.5px">Перечисления в Россию</div>
<svg style="position:absolute;left:15.3px;top:61.6px" width="63" height="4"><path d="M0 2H63" stroke="#FFD253" stroke-width="1.9" stroke-dasharray="4.4 2.1"/></svg><div class="li" style="left:85.3px;top:50.5px">Сальдо притока</div>
<div class="sw" style="left:400.5px;top:5.3px;height:12.4px;background:#C00000"></div><div class="li" style="left:470.5px;top:-1.5px">Поступления из США</div>
<div class="sw" style="left:400.5px;top:32.1px;height:11.3px;background:#F86534"></div><div class="li" style="left:470.5px;top:24.5px">Перечисления в США</div>
<div class="sw" style="left:786.5px;top:5.3px;height:12.4px;background:#767171"></div><div class="li" style="left:856.5px;top:-1.5px">Поступления из третьих стран</div>
<div class="sw" style="left:786.5px;top:32.1px;height:11.3px;background:#A6A6A6"></div><div class="li" style="left:856.5px;top:24.5px">Перечисления в третьи страны</div>
</div>
</body></html>
